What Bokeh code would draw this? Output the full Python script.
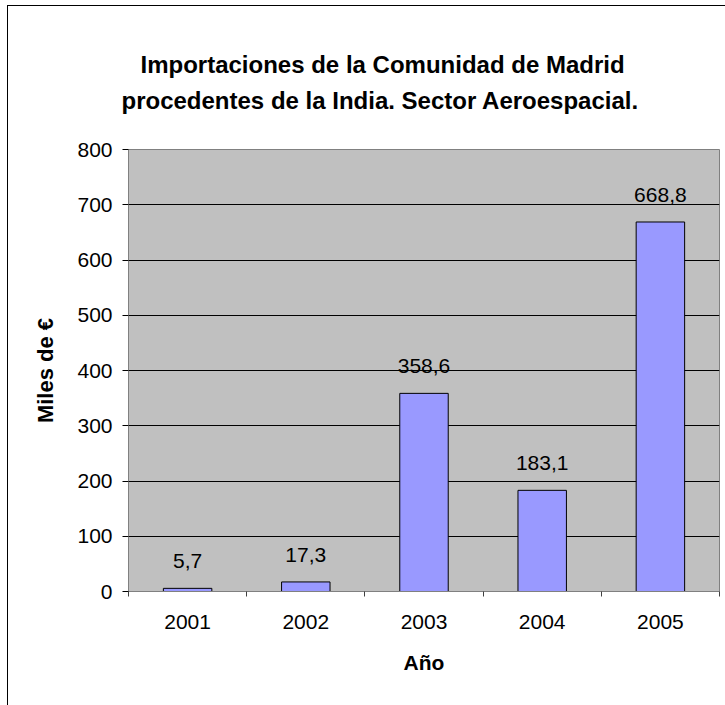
from bokeh.plotting import figure
from bokeh.models import Range1d, FixedTicker, Title, ColumnDataSource
from bokeh.core.properties import value
from bokeh.embed import file_html
from bokeh.resources import INLINE

years = ["2001", "2002", "2003", "2004", "2005"]
values = [5.7, 17.3, 358.6, 183.1, 668.8]
y_ticks = [0, 100, 200, 300, 400, 500, 600, 700, 800]
title_lines = ["Importaciones de la Comunidad de Madrid",
               "procedentes de la India. Sector Aeroespacial."]
y_label = "Miles de €"
x_label = "Año"

FONT = "Liberation Sans"

xpos = [i + 0.5 for i in range(len(years))]
labels = [f"{v:.1f}".replace(".", ",") for v in values]
src = ColumnDataSource(dict(x=xpos, top=values, label=labels))

p = figure(width=717, height=699, x_range=Range1d(0, len(years)),
           y_range=Range1d(0, y_ticks[-1]), output_backend="svg",
           toolbar_location=None, min_border_left=120, min_border_right=6,
           min_border_top=143, min_border_bottom=114)
p.margin = (6, 0, 0, 8)
p.styles = {"outline": "1px solid black"}

p.background_fill_color = "#C0C0C0"
p.border_fill_color = "white"
p.outline_line_color = "#808080"
p.outline_line_width = 1

p.xgrid.visible = False
p.ygrid.ticker = FixedTicker(ticks=y_ticks[1:-1])
p.ygrid.grid_line_color = "black"
p.ygrid.grid_line_width = 1

p.vbar(x="x", top="top", bottom=0, width=0.41, source=src,
       fill_color="#9999FF", line_color="black", line_width=1)

p.text(x="x", y="top", text="label", source=src, text_align="center",
       text_baseline="alphabetic", y_offset=-27, text_font=value(FONT),
       text_font_size="21px", text_color="black")

# x axis
xa = p.xaxis[0]
xa.ticker = FixedTicker(ticks=xpos, minor_ticks=list(range(len(years) + 1)))
xa.major_label_overrides = {x: y for x, y in zip(xpos, years)}
xa.major_tick_out = 0
xa.major_tick_in = 0
xa.minor_tick_out = 5
xa.minor_tick_in = 0
xa.minor_tick_line_color = "#404040"
xa.axis_line_color = "#808080"
xa.major_label_text_font = FONT
xa.major_label_text_font_size = "21px"
xa.major_label_text_color = "black"
xa.major_label_standoff = 18
xa.axis_label = x_label
xa.axis_label_text_font = FONT
xa.axis_label_text_font_size = "21px"
xa.axis_label_text_font_style = "bold"
xa.axis_label_text_color = "black"
xa.axis_label_standoff = 19

# y axis
ya = p.yaxis[0]
ya.ticker = FixedTicker(ticks=y_ticks, minor_ticks=[])
ya.major_tick_out = 6
ya.major_tick_in = 0
ya.major_tick_line_color = "black"
ya.axis_line_color = "#808080"
ya.major_label_text_font = FONT
ya.major_label_text_font_size = "21px"
ya.major_label_text_color = "black"
ya.major_label_standoff = 10
ya.axis_label = y_label
ya.axis_label_text_font = FONT
ya.axis_label_text_font_size = "22px"
ya.axis_label_text_font_style = "bold"
ya.axis_label_text_color = "black"
ya.axis_label_standoff = 16

# spacer between plot area and the title block
p.add_layout(Title(text=" ", text_font_size="1px", standoff=33), "above")

# titles (line 2 added first = closest to plot)
offsets = [12, -7]
standoffs = [14, 0]
for line, off, so in reversed(list(zip(title_lines, offsets, standoffs))):
    p.add_layout(Title(text=line, align="left", offset=off,
                       text_font=FONT, text_font_size="24px",
                       text_font_style="bold", text_color="black",
                       standoff=so), "above")

open("out.html", "w").write(file_html(p, INLINE))
